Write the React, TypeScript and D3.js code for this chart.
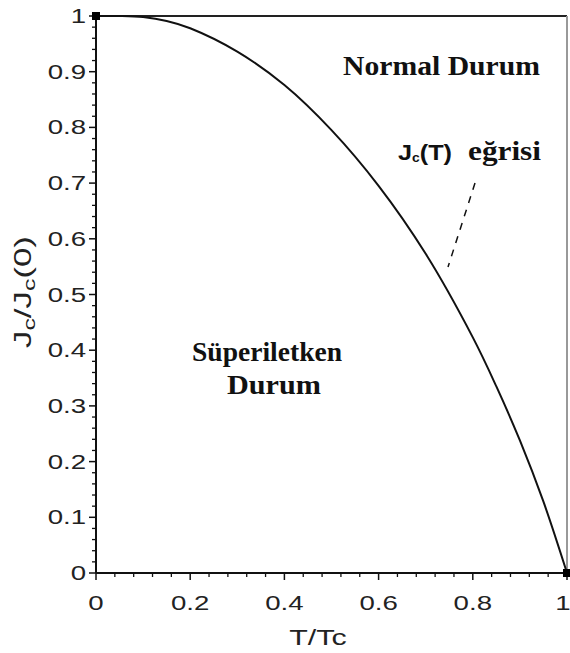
import React from "react";
import * as d3 from "d3";

const tValues = [0, 0.05, 0.1, 0.15, 0.2, 0.3, 0.4, 0.5, 0.6, 0.7, 0.8, 0.85, 0.9, 0.95, 1.0];
const jValues = [1, 1, 0.998, 0.991, 0.978, 0.936, 0.876, 0.795, 0.695, 0.573, 0.423, 0.335, 0.238, 0.128, 0];
const xTicks = [0, 0.2, 0.4, 0.6, 0.8, 1];
const xTickLabels = ["0", "0.2", "0.4", "0.6", "0.8", "1"];
const yTicks = [0, 0.1, 0.2, 0.3, 0.4, 0.5, 0.6, 0.7, 0.8, 0.9, 1];
const yTickLabels = ["0", "0.1", "0.2", "0.3", "0.4", "0.5", "0.6", "0.7", "0.8", "0.9", "1"];
const endpoints = [[0, 1], [1, 0]];

export default function App() {
  const W = 570, H = 653;
  const left = 96, right = 567, top = 16, bottom = 573;
  const x = d3.scaleLinear().domain([0, 1]).range([left, right]);
  const y = d3.scaleLinear().domain([0, 1]).range([bottom, top]);
  const line = d3.line<number>().x((_, i) => x(tValues[i])).y((d) => Math.max(y(d), top)).curve(d3.curveCatmullRom.alpha(0.5));
  const xMinor = d3.range(0, 1.0001, 0.04).filter((v) => Math.abs(v * 5 - Math.round(v * 5)) > 1e-6);
  const yMinor = d3.range(0, 1.0001, 0.02).filter((v) => Math.abs(v * 10 - Math.round(v * 10)) > 1e-6);
  const sans = "'Liberation Sans', Arial, sans-serif";
  const serif = "'Liberation Serif', 'Times New Roman', serif";
  const sx = 1.38;
  return (
    <svg width={W} height={H} style={{ position: "absolute", left: 0, top: 0 }}>
      <rect width={W} height={H} fill="#fff" />
      {/* frame */}
      <line x1={left} x2={right} y1={top} y2={top} stroke="#222" strokeWidth={2} />
      <line x1={right} x2={right} y1={top} y2={bottom} stroke="#999" strokeWidth={2} />
      {/* axes */}
      <line x1={left} x2={right} y1={bottom} y2={bottom} stroke="#111" strokeWidth={2} />
      <line x1={left} x2={left} y1={top} y2={bottom} stroke="#111" strokeWidth={2} />
      {xTicks.map((v) => (
        <line key={"xt" + v} x1={x(v)} x2={x(v)} y1={bottom} y2={bottom + 7} stroke="#111" strokeWidth={1.5} />
      ))}
      {xMinor.map((v) => (
        <line key={"xm" + v} x1={x(v)} x2={x(v)} y1={bottom} y2={bottom + 4} stroke="#111" strokeWidth={1.3} />
      ))}
      {yTicks.map((v) => (
        <line key={"yt" + v} x1={left - 7} x2={left} y1={y(v)} y2={y(v)} stroke="#111" strokeWidth={1.5} />
      ))}
      {yMinor.map((v) => (
        <line key={"ym" + v} x1={left - 4} x2={left} y1={y(v)} y2={y(v)} stroke="#111" strokeWidth={1.3} />
      ))}
      {xTicks.map((v, i) => (
        <text key={"xl" + v} transform={`translate(${Math.min(x(v), 563)},${bottom + 37}) scale(${sx},1)`} textAnchor="middle" fontFamily={sans} fontSize={20} fill="#222">
          {xTickLabels[i]}
        </text>
      ))}
      {yTicks.map((v, i) => (
        <text key={"yl" + v} transform={`translate(${left - 10},${y(v) + 7}) scale(${sx},1)`} textAnchor="end" fontFamily={sans} fontSize={20} fill="#222">
          {yTickLabels[i]}
        </text>
      ))}
      <text transform={`translate(318,645) scale(${sx},1)`} textAnchor="middle" fontFamily={sans} fontSize={22} fill="#222">T/Tc</text>
      <text transform="translate(31,292) rotate(-90)" textAnchor="middle" fontFamily={sans} fontSize={24} fill="#222" textLength={112} lengthAdjust="spacingAndGlyphs">
        J<tspan fontSize={17} dy={4}>c</tspan><tspan dy={-4}>/J</tspan><tspan fontSize={17} dy={4}>c</tspan><tspan dy={-4}>(0)</tspan>
      </text>
      {/* curve */}
      <path d={line(jValues) || ""} fill="none" stroke="#111" strokeWidth={2} />
      {endpoints.map(([a, b], i) => (
        <rect key={"ep" + i} x={x(a) - 4} y={y(b) - 4} width={8} height={8} fill="#000" />
      ))}
      {/* annotations */}
      <text x={343} y={75} fontFamily={serif} fontSize={27} fontWeight="bold" fill="#111" textLength={197} lengthAdjust="spacingAndGlyphs">Normal Durum</text>
      <text x={398} y={160} fontFamily={sans} fontSize={22} fontWeight="bold" fill="#111" textLength={54} lengthAdjust="spacingAndGlyphs">
        J<tspan fontSize={12} dy={2}>c</tspan><tspan dy={-2}>(T)</tspan>
      </text>
      <text x={468} y={160} fontFamily={serif} fontSize={27} fontWeight="bold" fill="#111" textLength={73} lengthAdjust="spacingAndGlyphs">eğrisi</text>
      <line x1={475} y1={183} x2={448} y2={267} stroke="#111" strokeWidth={1.5} strokeDasharray="7 7" />
      <text x={192} y={361} fontFamily={serif} fontSize={27} fontWeight="bold" fill="#111" textLength={150} lengthAdjust="spacingAndGlyphs">Süperiletken</text>
      <text x={227} y={394} fontFamily={serif} fontSize={27} fontWeight="bold" fill="#111" textLength={94} lengthAdjust="spacingAndGlyphs">Durum</text>
    </svg>
  );
}
